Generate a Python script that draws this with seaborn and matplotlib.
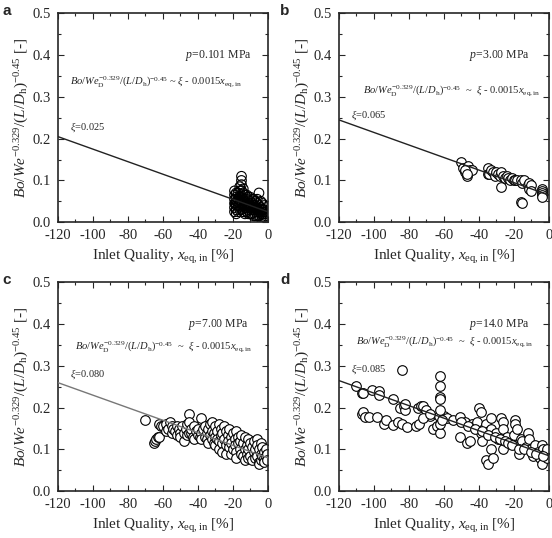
import numpy as np
import pandas as pd
import seaborn as sns
import matplotlib.pyplot as plt
from matplotlib.ticker import MultipleLocator

# panel settings
panel_tags = ["a", "b", "c", "d"]
pressures = ["0.101", "3.00", "7.00", "14.0"]
xi_values = [0.025, 0.065, 0.080, 0.085]
slope = 0.0015

# panel a: p = 0.101 MPa (dense cluster near zero)
xa = [-19, -19, -19, -19, -19, -19, -18, -18, -18, -18, -18, -18,
      -17, -17, -17, -17, -16, -16, -16, -16, -16,
      -15, -15, -15, -15, -15, -15, -15, -14, -14, -14, -14, -14,
      -13, -13, -13, -13, -12, -12, -12, -12, -11, -11, -11, -11,
      -10, -10, -10, -10, -9, -9, -9, -9, -8, -8, -8, -8,
      -7, -7, -7, -7, -6, -6, -6, -6, -5, -5, -5, -5,
      -4, -4, -4, -4, -3, -3, -3, -3, -2, -2, -2, -2, -1, -1, -1, -1,
      -18.5, -17.5, -16.5, -15.5, -14.5, -13.5, -12.5, -11.5, -10.5, -9.5,
      -8.5, -7.5, -6.5, -5.5, -4.5, -3.5, -2.5, -1.5]
ya = [0.025, 0.035, 0.045, 0.055, 0.065, 0.075, 0.02, 0.03, 0.04, 0.05, 0.06, 0.07,
      0.025, 0.04, 0.055, 0.07, 0.03, 0.045, 0.06, 0.075, 0.085,
      0.03, 0.045, 0.06, 0.075, 0.09, 0.10, 0.11, 0.025, 0.04, 0.055, 0.07, 0.08,
      0.02, 0.035, 0.05, 0.065, 0.025, 0.04, 0.055, 0.065, 0.02, 0.03, 0.045, 0.06,
      0.02, 0.035, 0.05, 0.06, 0.02, 0.03, 0.045, 0.055, 0.015, 0.03, 0.04, 0.055,
      0.015, 0.025, 0.04, 0.05, 0.015, 0.03, 0.045, 0.055, 0.015, 0.025, 0.04, 0.07,
      0.01, 0.02, 0.035, 0.05, 0.01, 0.02, 0.03, 0.045, 0.01, 0.02, 0.03, 0.04,
      0.01, 0.015, 0.025, 0.035,
      0.045, 0.05, 0.04, 0.05, 0.045, 0.04, 0.035, 0.04, 0.035, 0.04,
      0.035, 0.03, 0.035, 0.03, 0.025, 0.03, 0.025, 0.02]

# panel b: p = 3.00 MPa
xb = [-50, -49, -48, -47, -46, -45, -44, -48, -47,
      -35, -35, -34, -33, -32, -31, -30, -29, -28, -27, -27, -26, -25, -24,
      -23, -22, -21, -20, -19, -18, -16, -15, -14, -12, -11, -11, -10, -10,
      -16, -15, -4, -4, -4, -4, -4]
yb = [0.145, 0.13, 0.12, 0.11, 0.135, 0.125, 0.125, 0.125, 0.115,
      0.13, 0.115, 0.115, 0.125, 0.12, 0.11, 0.12, 0.115, 0.11, 0.12, 0.085, 0.11, 0.105, 0.11,
      0.105, 0.10, 0.105, 0.10, 0.10, 0.10, 0.10, 0.095, 0.10, 0.09, 0.095, 0.08, 0.09, 0.075,
      0.048, 0.045, 0.08, 0.075, 0.07, 0.065, 0.06]

# panel c: p = 7.00 MPa
xc = [-70, -65, -64.5, -64, -63, -62, -62, -61, -60, -58, -58, -57, -56, -55, -55,
      -54, -53, -52, -52, -51, -50, -50, -49, -48, -48, -47, -46, -46,
      -45, -45, -45, -44, -44, -43, -42, -42, -41, -40, -40, -39, -38, -38, -38,
      -37, -36, -36, -35, -35, -34, -34, -33, -33, -32, -32, -32, -31, -31,
      -30, -30, -30, -29, -29, -28, -28, -28, -27, -27, -26, -26, -26, -25, -25,
      -24, -24, -24, -23, -23, -22, -22, -21, -21, -21, -20, -20, -19, -19,
      -18, -18, -18, -17, -17, -16, -16, -15, -15, -14, -14, -13, -13, -13,
      -12, -12, -11, -11, -11, -10, -10, -9, -9, -8, -8, -7, -7, -6, -6, -6,
      -5, -5, -5, -4, -4, -4, -3, -3, -2, -2, -2, -1, -1, -0.5, -0.5]
yc = [0.17, 0.115, 0.12, 0.125, 0.13, 0.13, 0.16, 0.155, 0.155, 0.16, 0.145, 0.15, 0.165, 0.14, 0.155,
      0.15, 0.145, 0.155, 0.135, 0.15, 0.14, 0.13, 0.155, 0.12, 0.14, 0.15, 0.16, 0.135,
      0.185, 0.165, 0.14, 0.14, 0.15, 0.13, 0.155, 0.125, 0.145, 0.135, 0.15, 0.13, 0.175, 0.14, 0.125,
      0.15, 0.155, 0.13, 0.14, 0.125, 0.15, 0.115, 0.16, 0.135, 0.165, 0.125, 0.145, 0.14, 0.115,
      0.155, 0.13, 0.11, 0.145, 0.125, 0.16, 0.12, 0.10, 0.15, 0.135, 0.14, 0.115, 0.095, 0.155, 0.125,
      0.145, 0.11, 0.09, 0.135, 0.12, 0.15, 0.105, 0.13, 0.115, 0.09, 0.14, 0.10, 0.125, 0.11,
      0.145, 0.095, 0.08, 0.13, 0.115, 0.12, 0.10, 0.135, 0.09, 0.115, 0.085, 0.13, 0.10, 0.075,
      0.11, 0.09, 0.125, 0.10, 0.08, 0.115, 0.085, 0.105, 0.075, 0.12, 0.095, 0.10, 0.08, 0.125, 0.11, 0.085,
      0.10, 0.07, 0.065, 0.115, 0.09, 0.075, 0.105, 0.085, 0.095, 0.08, 0.07, 0.10, 0.085, 0.09, 0.075]

# panel d: p = 14.0 MPa
xd = [-110, -107, -106, -101, -97, -97, -89, -85, -83, -82, -82, -75, -73, -72, -70, -68,
      -63, -60, -58, -55,
      -107, -106, -105, -103, -98, -94, -93, -89, -86, -84, -81, -76, -74, -72, -68,
      -66, -64, -62, -62, -61,
      -62, -62, -62, -62, -62, -84,
      -51, -51, -48, -47, -45, -44, -41, -40, -39, -39, -38, -36, -36, -35, -34,
      -33, -33, -33, -32, -30, -29, -27, -26, -26, -26, -24, -22, -20, -19, -19,
      -18, -18, -17, -16, -15, -13, -12, -11, -10, -9, -8, -6, -5, -4, -4, -3, -2,
      -1, -1, -50, -46, -42, -38, -35, -31, -28, -25, -23, -21, -17, -14, -10, -7, -3]
yd = [0.253, 0.235, 0.235, 0.242, 0.24, 0.23, 0.222, 0.20, 0.205, 0.195, 0.21, 0.20, 0.205, 0.205, 0.195, 0.18,
      0.18, 0.18, 0.175, 0.17,
      0.185, 0.19, 0.178, 0.178, 0.178, 0.16, 0.17, 0.158, 0.165, 0.16, 0.153, 0.155, 0.16, 0.175, 0.185,
      0.15, 0.155, 0.14, 0.16, 0.17,
      0.277, 0.252, 0.225, 0.222, 0.195, 0.29,
      0.178, 0.13, 0.165, 0.115, 0.12, 0.16, 0.165, 0.20, 0.19, 0.14, 0.12, 0.16, 0.075, 0.065, 0.145,
      0.175, 0.15, 0.10, 0.08, 0.14, 0.125, 0.175, 0.165, 0.15, 0.10, 0.13, 0.115, 0.135, 0.17, 0.16,
      0.15, 0.11, 0.09, 0.125, 0.12, 0.105, 0.14, 0.125, 0.10, 0.085, 0.11, 0.095, 0.08, 0.11, 0.065, 0.10, 0.09,
      0.10, 0.08, 0.165, 0.155, 0.15, 0.145, 0.135, 0.13, 0.125, 0.12, 0.115, 0.11, 0.10, 0.10, 0.095, 0.09, 0.085]

xs = [xa, xb, xc, xd]
ys = [ya, yb, yc, yd]

sns.set_style("ticks")
plt.rcParams['font.family'] = ['Liberation Serif', 'DejaVu Serif']
plt.rcParams['mathtext.fontset'] = 'custom'
plt.rcParams['mathtext.rm'] = 'Liberation Serif'
plt.rcParams['mathtext.it'] = 'Liberation Serif:italic'
plt.rcParams['mathtext.bf'] = 'Liberation Serif:bold'
plt.rcParams['axes.unicode_minus'] = False

fig = plt.figure(figsize=(5.52, 5.38), dpi=100)
positions = [[0.105, 0.587, 0.380, 0.388], [0.614, 0.587, 0.380, 0.388],
             [0.105, 0.087, 0.380, 0.388], [0.614, 0.087, 0.380, 0.388]]
tag_pos = [(0.004, 0.992), (0.508, 0.992), (0.004, 0.492), (0.508, 0.492)]
line_colors = ["#222222", "#222222", "#777777", "#222222"]
face_colors = ["none", "white", "white", "white"]
eq_y = [0.336, 0.316, 0.345, 0.357]
eq_x = [-113, -106, -110, -110]
eq_gap = [" ~ ", "  ~  ", "  ~  ", "  ~  "]
xi_y = [0.228, 0.256, 0.28, 0.292]

for i in range(4):
    ax = fig.add_axes(positions[i])
    df = pd.DataFrame({"x": xs[i], "y": ys[i]})
    sns.scatterplot(data=df, x="x", y="y", ax=ax, marker="o", s=48,
                    facecolor=face_colors[i], edgecolor="black", linewidth=0.8, zorder=2)
    line_df = pd.DataFrame({"x": [-120, 0]})
    line_df["y"] = xi_values[i] - slope * line_df["x"]
    sns.lineplot(data=line_df, x="x", y="y", ax=ax, color=line_colors[i], lw=1.0, zorder=3)

    ax.set_xlim(-120, 0)
    ax.set_ylim(0, 0.5)
    ax.xaxis.set_major_locator(MultipleLocator(20))
    ax.xaxis.set_minor_locator(MultipleLocator(10))
    ax.yaxis.set_major_locator(MultipleLocator(0.1))
    ax.yaxis.set_minor_locator(MultipleLocator(0.05))
    ax.yaxis.set_major_formatter(plt.FormatStrFormatter('%.1f'))
    ax.tick_params(which='both', direction='in', top=True, right=True, labelsize=10.5, width=0.8)
    ax.tick_params(which='major', length=4)
    ax.tick_params(which='minor', length=2)
    ax.tick_params(axis='x', pad=5)
    ax.tick_params(axis='y', pad=5)
    for sp in ax.spines.values():
        sp.set_linewidth(1.2)
    ax.set_xlabel(r"Inlet Quality, $x_{\mathrm{eq,in}}$ [%]", fontsize=11, labelpad=4)
    ax.set_ylabel(r"$Bo/We^{-0.329}/(L/D_{\mathrm{h}})^{-0.45}$ [-]", fontsize=11, labelpad=1)

    ax.text(-28, 0.40, r"$p$=" + pressures[i] + " MPa", fontsize=8.5, ha="center", va="center")
    ax.text(eq_x[i], eq_y[i],
            r"$Bo/We_{\mathrm{D}}^{-0.329}/(L/D_{\mathrm{h}})^{-0.45}$" + eq_gap[i]
            + r"$\xi$ - 0.0015$x_{\mathrm{eq,in}}$",
            fontsize=7.6, ha="left", va="center")
    ax.text(-113, xi_y[i], r"$\xi$=%.3f" % xi_values[i], fontsize=7.5, ha="left", va="center")
    fig.text(tag_pos[i][0], tag_pos[i][1], panel_tags[i], fontsize=11, fontweight="bold",
             family="Liberation Sans", ha="left", va="top")

fig.savefig("out.png", dpi=100)
